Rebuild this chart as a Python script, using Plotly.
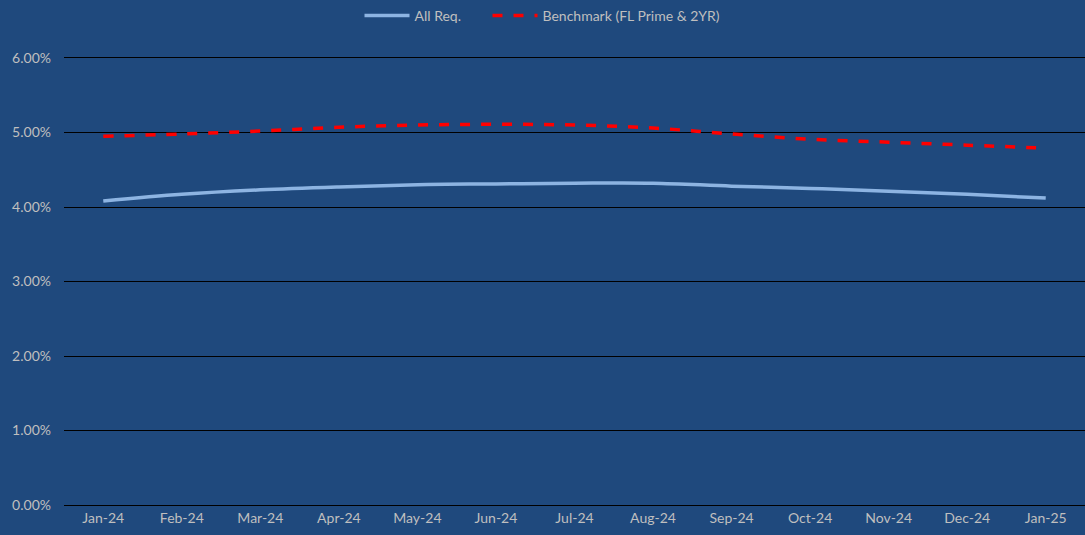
import plotly.graph_objects as go

months = ["Jan-24", "Feb-24", "Mar-24", "Apr-24", "May-24", "Jun-24", "Jul-24",
          "Aug-24", "Sep-24", "Oct-24", "Nov-24", "Dec-24", "Jan-25"]
all_req = [4.08, 4.17, 4.23, 4.27, 4.30, 4.31, 4.32, 4.32, 4.28, 4.25, 4.21, 4.17, 4.12]
benchmark = [4.95, 4.98, 5.02, 5.07, 5.10, 5.11, 5.10, 5.06, 4.98, 4.91, 4.87, 4.83, 4.79]
y_ticks = [0, 1, 2, 3, 4, 5, 6]

bg = "#1F497D"
txt = "#BFBFBF"

fig = go.Figure()
fig.add_trace(go.Scatter(x=months, y=[v / 100 for v in all_req], name="All Req." + "\u00a0" * 6,
                         mode="lines", line=dict(color="#8DB4E2", width=3.5, shape="spline")))
fig.add_trace(go.Scatter(x=months, y=[v / 100 for v in benchmark], name="Benchmark (FL Prime & 2YR)",
                         mode="lines", line=dict(color="#FF0000", width=3.5, dash="10px,11px", shape="spline")))

fig.update_layout(
    width=1085, height=535,
    paper_bgcolor=bg, plot_bgcolor=bg,
    margin=dict(l=64, r=0, t=58, b=30),
    font=dict(family="Lato, Liberation Sans, sans-serif", size=14, color=txt),
    showlegend=True,
    legend=dict(orientation="h", x=0.5, xanchor="center", xref="container",
                y=1.0, yanchor="top", yref="container", itemwidth=45,
                font=dict(size=14, color=txt), bgcolor="rgba(0,0,0,0)"),
    xaxis=dict(type="category", range=[-0.5, 12.5], showgrid=False, zeroline=False,
               showline=True, mirror=True, linecolor="#000000", linewidth=1.3,
               ticks="", tickfont=dict(color=txt, size=14)),
    yaxis=dict(range=[0, 0.06], tickvals=[t / 100 for t in y_ticks], tickformat=".2%",
               showgrid=True, gridcolor="#000000", gridwidth=1.3, zeroline=False,
               showline=False, ticks="", ticklabelstandoff=12,
               tickfont=dict(color=txt, size=14)),
)

fig.write_html("out.html", config={"displayModeBar": False},
               post_script="document.body.style.margin='0';document.body.style.overflow='hidden';")
